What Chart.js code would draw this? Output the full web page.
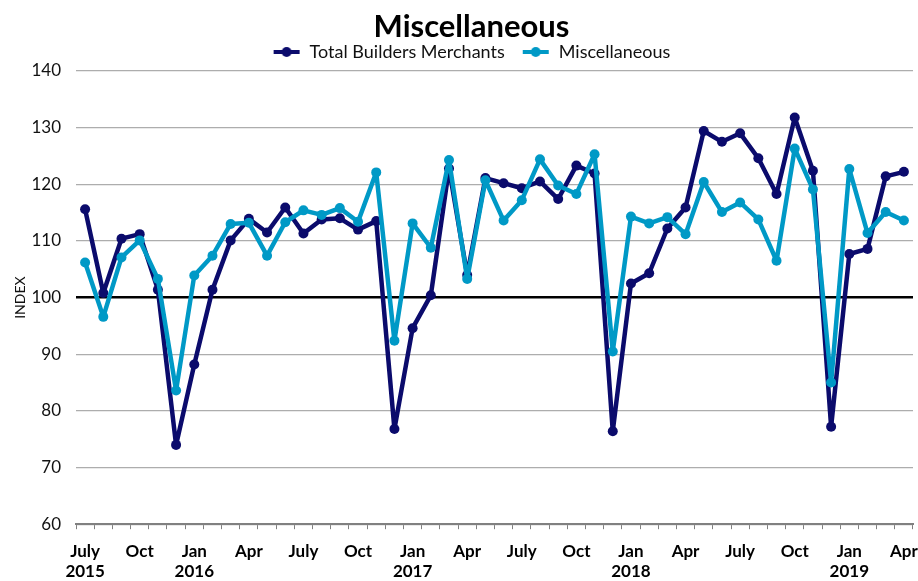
<!DOCTYPE html>
<html>
<head>
<meta charset="utf-8">
<title>Miscellaneous</title>
<script src="https://cdn.jsdelivr.net/npm/chart.js@4/dist/chart.umd.min.js"></script>
<style>
    body { margin: 0; background: #fff; }
    #wrap { width: 918px; height: 581px; }
</style>
</head>
<body>
<div id="wrap"><canvas id="miscChart" width="918" height="581"></canvas></div>
<script>
// Monthly categories, July 2015 - April 2019
const months = [
    'Jul 2015', 'Aug 2015', 'Sep 2015', 'Oct 2015', 'Nov 2015', 'Dec 2015',
    'Jan 2016', 'Feb 2016', 'Mar 2016', 'Apr 2016', 'May 2016', 'Jun 2016',
    'Jul 2016', 'Aug 2016', 'Sep 2016', 'Oct 2016', 'Nov 2016', 'Dec 2016',
    'Jan 2017', 'Feb 2017', 'Mar 2017', 'Apr 2017', 'May 2017', 'Jun 2017',
    'Jul 2017', 'Aug 2017', 'Sep 2017', 'Oct 2017', 'Nov 2017', 'Dec 2017',
    'Jan 2018', 'Feb 2018', 'Mar 2018', 'Apr 2018', 'May 2018', 'Jun 2018',
    'Jul 2018', 'Aug 2018', 'Sep 2018', 'Oct 2018', 'Nov 2018', 'Dec 2018',
    'Jan 2019', 'Feb 2019', 'Mar 2019', 'Apr 2019'
];

// Axis labels shown under the months (blank = no label)
const tickLabels = [
    ['July', '2015'], '', '', 'Oct', '', '',
    ['Jan', '2016'], '', '', 'Apr', '', '',
    'July', '', '', 'Oct', '', '',
    ['Jan', '2017'], '', '', 'Apr', '', '',
    'July', '', '', 'Oct', '', '',
    ['Jan', '2018'], '', '', 'Apr', '', '',
    'July', '', '', 'Oct', '', '',
    ['Jan', '2019'], '', '', 'Apr'
];

const totalBuilders = [
    115.6, 100.8, 110.4, 111.2, 101.4, 74.0,
    88.2, 101.4, 110.1, 113.9, 111.5, 115.9,
    111.3, 113.8, 114.0, 112.0, 113.5, 76.8,
    94.6, 100.4, 122.8, 104.0, 121.1, 120.2,
    119.3, 120.5, 117.4, 123.3, 121.9, 76.4,
    102.5, 104.3, 112.2, 115.9, 129.4, 127.5,
    129.0, 124.6, 118.3, 131.8, 122.4, 77.2,
    107.7, 108.6, 121.4, 122.2
];

const miscellaneous = [
    106.2, 96.6, 107.1, 110.1, 103.3, 83.6,
    103.9, 107.4, 113.0, 113.2, 107.4, 113.3,
    115.4, 114.6, 115.8, 113.4, 122.1, 92.4,
    113.1, 108.8, 124.3, 103.3, 120.7, 113.6,
    117.2, 124.4, 119.8, 118.3, 125.3, 90.5,
    114.3, 113.1, 114.2, 111.2, 120.4, 115.1,
    116.8, 113.8, 106.5, 126.3, 119.1, 85.0,
    122.7, 111.4, 115.1, 113.6
];

const yTicks = { min: 60, max: 140, step: 10 };

const darkBlue = '#0B0B6C';
const lightBlue = '#0099C6';

// small line + dot marker used in the legend
function legendMarker(color) {
    const c = document.createElement('canvas');
    c.width = 28;
    c.height = 12;
    const g = c.getContext('2d');
    g.strokeStyle = color;
    g.lineWidth = 4;
    g.beginPath();
    g.moveTo(1, 6);
    g.lineTo(27, 6);
    g.stroke();
    g.fillStyle = color;
    g.beginPath();
    g.arc(14, 6, 5, 0, Math.PI * 2);
    g.fill();
    return c;
}

Chart.defaults.font.family = 'Lato, "Open Sans", sans-serif';
Chart.defaults.color = '#111';

const markers = [legendMarker(darkBlue), legendMarker(lightBlue)];

new Chart(document.getElementById('miscChart').getContext('2d'), {
    type: 'line',
    data: {
        labels: months,
        datasets: [
            {
                label: 'Total Builders Merchants',
                data: totalBuilders,
                borderColor: darkBlue,
                backgroundColor: darkBlue,
                borderWidth: 4.5,
                borderJoinStyle: 'round',
                pointRadius: 5,
                pointBorderWidth: 0,
                tension: 0,
                order: 1
            },
            {
                label: 'Miscellaneous',
                data: miscellaneous,
                borderColor: lightBlue,
                backgroundColor: lightBlue,
                borderWidth: 4.5,
                borderJoinStyle: 'round',
                pointRadius: 5,
                pointBorderWidth: 0,
                tension: 0,
                order: 0
            }
        ]
    },
    options: {
        responsive: false,
        animation: false,
        devicePixelRatio: 1,
        layout: {
            padding: { left: 30, right: 5, top: 0, bottom: -13 }
        },
        plugins: {
            title: {
                display: true,
                text: 'Miscellaneous',
                color: '#000',
                font: { size: 31, weight: 'bold' },
                padding: { top: 4, bottom: -20 }
            },
            legend: {
                position: 'top',
                labels: {
                    usePointStyle: true,
                    pointStyleWidth: 28,
                    padding: 17,
                    color: '#111',
                    font: { size: 18 },
                    sort: function(a, b) {
                        return a.datasetIndex - b.datasetIndex;
                    },
                    generateLabels(chart) {
                        const items = Chart.defaults.plugins.legend.labels.generateLabels(chart);
                        items.forEach(function(item) {
                            item.pointStyle = markers[item.datasetIndex];
                        });
                        return items;
                    }
                }
            },
            tooltip: { enabled: false }
        },
        scales: {
            x: {
                offset: true,
                afterFit: function(scale) {
                    scale.paddingLeft = 0;
                    scale.paddingRight = 0;
                },
                grid: {
                    offset: true,
                    drawOnChartArea: false,
                    drawTicks: true,
                    tickLength: 5,
                    color: '#808080'
                },
                border: { color: '#808080', width: 2 },
                ticks: {
                    autoSkip: false,
                    maxRotation: 0,
                    padding: 12,
                    color: '#000',
                    font: { size: 17, weight: 'bold', lineHeight: 1.2 },
                    callback: function(value, index) {
                        return tickLabels[index];
                    }
                }
            },
            y: {
                min: yTicks.min,
                max: yTicks.max,
                afterFit: function(scale) {
                    scale.width = 46;
                    scale.paddingTop = 71;
                },
                border: { display: false },
                grid: {
                    drawTicks: false,
                    color: function(ctx) {
                        return ctx.tick && ctx.tick.value === 100 ? '#000' : '#ADADAD';
                    },
                    lineWidth: function(ctx) {
                        return ctx.tick && ctx.tick.value === 100 ? 2.5 : 1.2;
                    }
                },
                ticks: {
                    stepSize: yTicks.step,
                    padding: 15,
                    color: '#111',
                    font: { size: 17 }
                },
                title: {
                    display: true,
                    text: 'INDEX',
                    color: '#111',
                    font: { size: 14 },
                    padding: { top: -18, bottom: 0 }
                }
            }
        }
    }
});
</script>
</body>
</html>
